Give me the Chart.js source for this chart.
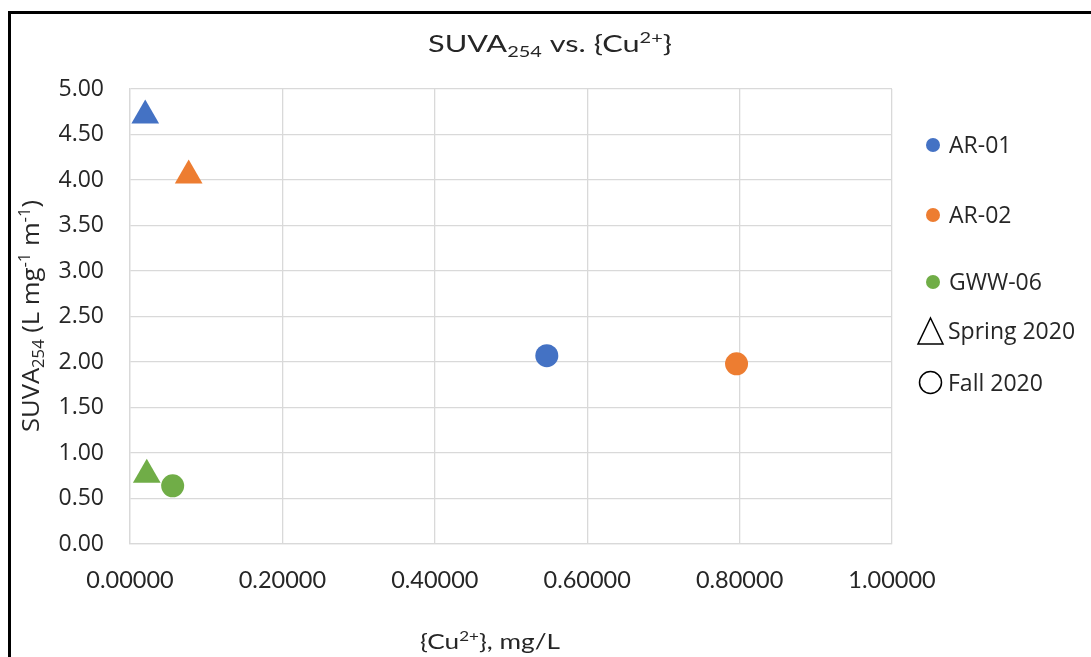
<!DOCTYPE html>
<html>
<head>
<meta charset="utf-8">
<script src="https://cdn.jsdelivr.net/npm/chart.js@4.4.0/dist/chart.umd.min.js"></script>
<style>
  html, body { margin: 0; padding: 0; background: #fff; }
  #wrap { width: 1091px; height: 657px; }
</style>
</head>
<body>
<div id="wrap"><canvas id="suva-canvas" width="1091" height="657"></canvas></div>
<script>
// datos
const sites = ['AR-01', 'AR-02', 'GWW-06'];
const seasons = ['Spring 2020', 'Fall 2020'];
const springCu = [0.020, 0.077, 0.022];
const springSuva = [4.71, 4.05, 0.76];
const fallCu = [0.547, 0.796, 0.056];
const fallSuva = [2.07, 1.98, 0.64];
const siteColors = ['#4472C4', '#ED7D31', '#70AD47'];

const ctx = document.getElementById('suva-canvas').getContext('2d');

// texto con subindices / superindices, estirado a lo ancho
function drawRich(c, parts, x, y, size, family, width) {
    let total = 0;
    parts.forEach(p => {
        const s = p[1] ? size * 0.65 : size;
        c.font = s + 'px ' + family;
        total += c.measureText(p[0]).width;
    });
    const k = width ? width / total : 1;
    c.save();
    c.translate(x - total * k / 2, y);
    c.scale(k, 1);
    let cx = 0;
    parts.forEach(p => {
        const s = p[1] ? size * 0.65 : size;
        c.font = s + 'px ' + family;
        let dy = 0;
        if (p[1] === 'sub') dy = size * 0.2;
        if (p[1] === 'sup') dy = -size * 0.38;
        c.fillText(p[0], cx, dy);
        cx += c.measureText(p[0]).width;
    });
    c.restore();
}

const extras = {
    id: 'extras',
    beforeDraw(chart) {
        const c = chart.ctx;
        c.save();
        c.fillStyle = '#fff';
        c.fillRect(0, 0, chart.width, chart.height);
        c.strokeStyle = '#000';
        c.lineWidth = 3;
        c.beginPath();
        c.moveTo(9.5, chart.height);
        c.lineTo(9.5, 12.5);
        c.lineTo(chart.width, 12.5);
        c.stroke();
        c.restore();
    },
    afterDraw(chart) {
        const c = chart.ctx;
        c.save();
        c.fillStyle = '#262626';
        c.textBaseline = 'alphabetic';
        // titulo
        drawRich(c, [['SUVA', ''], ['254', 'sub'], [' vs. {Cu', ''], ['2+', 'sup'], ['}', '']],
            550, 52, 24, 'Lato', 244);
        // titulo eje x
        drawRich(c, [['{Cu', ''], ['2+', 'sup'], ['}, mg/L', '']], 490, 649, 21, 'Lato', 140);
        // titulo eje y
        c.save();
        c.translate(39, 316);
        c.rotate(-Math.PI / 2);
        drawRich(c, [['SUVA', ''], ['254', 'sub'], [' (L mg', ''], ['-1', 'sup'], [' m', ''], ['-1', 'sup'], [')', '']],
            0, 0, 24, '"Open Sans"', 232);
        c.restore();

        // leyenda
        const legY = [145, 215, 282];
        c.font = '23px "Open Sans"';
        c.textBaseline = 'middle';
        sites.forEach((s, i) => {
            c.fillStyle = siteColors[i];
            c.beginPath();
            c.arc(933, legY[i], 7, 0, Math.PI * 2);
            c.fill();
            c.fillStyle = '#262626';
            c.fillText(s, 949, legY[i] + 1);
        });
        c.strokeStyle = '#000';
        c.lineWidth = 1.5;
        c.beginPath();
        c.moveTo(930.5, 318);
        c.lineTo(943, 344);
        c.lineTo(918, 344);
        c.closePath();
        c.stroke();
        c.fillText(seasons[0], 948, 332);
        c.beginPath();
        c.arc(930.5, 382.5, 11, 0, Math.PI * 2);
        c.stroke();
        c.fillText(seasons[1], 948, 384);
        c.restore();
    }
};

const datasets = [];
sites.forEach((s, i) => {
    datasets.push({
        label: s + ' ' + seasons[0],
        data: [{x: springCu[i], y: springSuva[i]}],
        pointStyle: 'triangle',
        pointRadius: 16,
        backgroundColor: siteColors[i],
        borderColor: siteColors[i],
        borderWidth: 0
    });
    datasets.push({
        label: s + ' ' + seasons[1],
        data: [{x: fallCu[i], y: fallSuva[i]}],
        pointStyle: 'circle',
        pointRadius: 11.5,
        backgroundColor: siteColors[i],
        borderColor: siteColors[i],
        borderWidth: 0
    });
});

const chart = new Chart(ctx, {
    type: 'scatter',
    data: { datasets: datasets },
    options: {
        responsive: false,
        animation: false,
        layout: { padding: { left: 0, top: 89, right: 199, bottom: 0 } },
        plugins: {
            legend: { display: false },
            title: { display: false },
            tooltip: { enabled: false }
        },
        scales: {
            x: {
                type: 'linear',
                min: 0,
                max: 1,
                afterFit: scale => { scale.height = 113; },
                ticks: {
                    stepSize: 0.2,
                    padding: 22,
                    color: '#262626',
                    font: { family: 'Lato', size: 23.5 },
                    callback: v => v.toFixed(5)
                },
                grid: { color: '#d9d9d9', lineWidth: 1.3, drawTicks: false },
                border: { color: '#d9d9d9', width: 1.3 }
            },
            y: {
                type: 'linear',
                min: 0,
                max: 5,
                afterFit: scale => { scale.width = 130; },
                ticks: {
                    stepSize: 0.5,
                    padding: 26,
                    color: '#262626',
                    font: { family: '"Open Sans"', size: 23 },
                    callback: v => v.toFixed(2)
                },
                grid: { color: '#d9d9d9', lineWidth: 1.3, drawTicks: false },
                border: { color: '#d9d9d9', width: 1.3 }
            }
        }
    },
    plugins: [extras]
});
</script>
</body>
</html>
